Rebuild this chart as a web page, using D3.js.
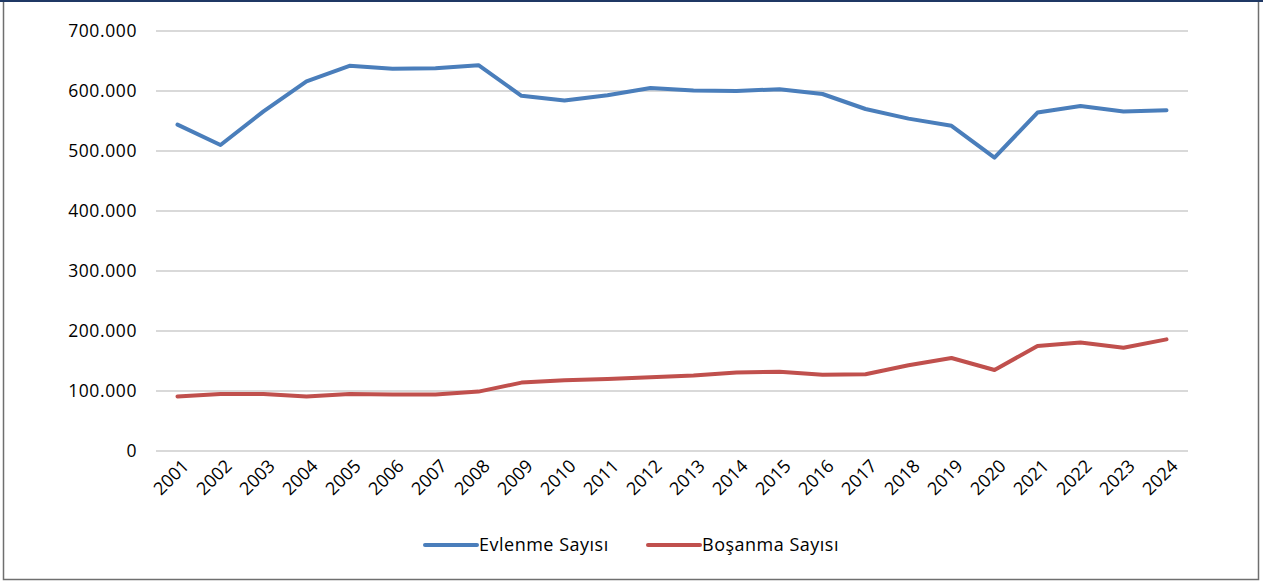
<!DOCTYPE html>
<html>
<head>
<meta charset="utf-8">
<script src="https://cdn.jsdelivr.net/npm/d3@7"></script>
<style>
  body { margin: 0; background: #fff; }
  svg { display: block; }
</style>
</head>
<body>
<script>
const years = ['2001','2002','2003','2004','2005','2006','2007','2008','2009','2010','2011','2012',
  '2013','2014','2015','2016','2017','2018','2019','2020','2021','2022','2023','2024']
const marriages = [544000, 510000, 566000, 616000, 642000, 637000, 638000, 643000, 592000, 584000, 593000, 605000,
  601000, 600000, 603000, 595000, 570000, 554000, 542000, 489000, 564000, 575000, 566000, 568000]
const divorces = [91000, 95000, 95000, 91000, 95000, 94000, 94000, 99000, 114000, 118000, 120000, 123000,
  126000, 131000, 132000, 127000, 128000, 143000, 155000, 135000, 175000, 181000, 172000, 186000]
const yTicks = [0, 100000, 200000, 300000, 400000, 500000, 600000, 700000]
const seriesNames = ['Evlenme Sayısı', 'Boşanma Sayısı']
const seriesColors = ['#4a7ebb', '#c0504d']

const W = 1263, H = 581
const margin = {top: 31, right: 75, bottom: 130, left: 156}
const plotW = 1188 - margin.left, plotH = 451 - margin.top

const svg = d3.select('body').append('svg')
  .attr('width', W)
  .attr('height', H)

// frame
svg.append('rect')
  .attr('x', 3.5).attr('y', 1)
  .attr('width', 1255).attr('height', 578.5)
  .attr('fill', 'none')
  .attr('stroke', '#6f6f6f')
  .attr('stroke-width', 1.5)
svg.append('line')
  .attr('x1', 0).attr('x2', W)
  .attr('y1', 1).attr('y2', 1)
  .attr('stroke', '#1f3864')
  .attr('stroke-width', 2)

const chart = svg.append('g')
  .attr('transform', `translate(${margin.left},${margin.top})`)

let x = d3.scalePoint()
  .domain(years)
  .range([0, plotW])
  .padding(0.5)

let y = d3.scaleLinear()
  .domain([0, 700000])
  .range([plotH, 0])

const fmt = d => d === 0 ? '0' : d3.format(',')(d).replace(/,/g, '.')

// grid
chart.append('g')
  .selectAll('line')
  .data(yTicks).enter()
  .append('line')
  .attr('x1', 0).attr('x2', plotW)
  .attr('y1', d => y(d)).attr('y2', d => y(d))
  .attr('stroke', '#d9d9d9')
  .attr('stroke-width', 2)

// y axis
let yAxis = d3.axisLeft(y)
  .tickValues(yTicks)
  .tickFormat(fmt)
  .tickSize(0)
  .tickPadding(19)
let yG = chart.append('g').call(yAxis)
yG.select('.domain').remove()
yG.selectAll('text')
  .style('font-family', '"Open Sans", sans-serif')
  .style('font-size', '17.5px')
  .style('letter-spacing', '0.6px')
  .attr('fill', '#000')

// x axis
let xAxis = d3.axisBottom(x).tickSize(0)
let xG = chart.append('g')
  .attr('transform', `translate(0,${plotH})`)
  .call(xAxis)
xG.select('.domain').remove()
xG.selectAll('text')
  .style('font-family', '"Open Sans", sans-serif')
  .style('font-size', '18px')
  .attr('fill', '#000')
  .attr('text-anchor', 'end')
  .attr('dy', 0)
  .attr('transform', 'translate(10,14) rotate(-45)')

// lines
const line = d3.line()
  .x((d, i) => x(years[i]))
  .y(d => y(d))

;[marriages, divorces].forEach((vals, i) => {
  chart.append('path')
    .datum(vals)
    .attr('fill', 'none')
    .attr('stroke', seriesColors[i])
    .attr('stroke-width', 4)
    .attr('stroke-linejoin', 'round')
    .attr('stroke-linecap', 'round')
    .attr('d', line)
})

// legend
const legendX = [425, 648]
const legend = svg.append('g')
  .selectAll('.legend')
  .data(seriesNames).enter()
  .append('g')
  .attr('class', 'legend')
  .attr('transform', (d, i) => `translate(${legendX[i]},545)`)

legend.append('line')
  .attr('x1', 0).attr('x2', 52)
  .attr('stroke', (d, i) => seriesColors[i])
  .attr('stroke-width', 4)
  .attr('stroke-linecap', 'round')

legend.append('text')
  .attr('x', 54)
  .attr('dy', '0.35em')
  .style('font-family', '"Open Sans", sans-serif')
  .style('font-size', '18px')
  .style('letter-spacing', '0.5px')
  .attr('fill', '#000')
  .text(String)
</script>
</body>
</html>
